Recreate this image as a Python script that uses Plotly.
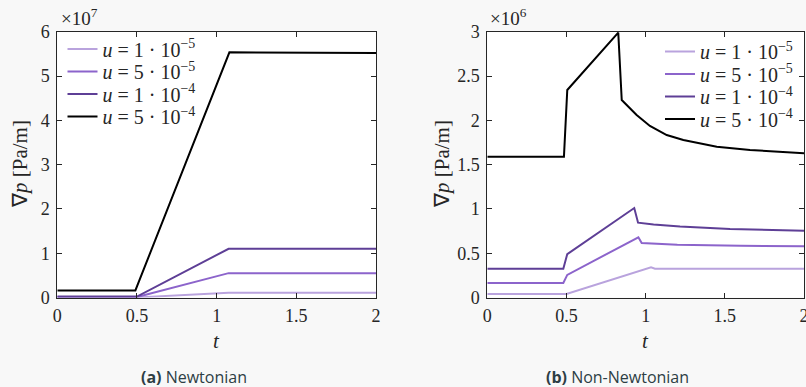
import plotly.graph_objects as go

# Flow rates shown in both panels
labels = ["<i>u</i> = 1 · 10<sup>−5</sup>", "<i>u</i> = 5 · 10<sup>−5</sup>",
          "<i>u</i> = 1 · 10<sup>−4</sup>", "<i>u</i> = 5 · 10<sup>−4</sup>"]
colors = ["#b9a3dd", "#8c64cb", "#5e3f96", "#000000"]

# (a) Newtonian pressure gradient [Pa/m]
newt_t_1e5 = [0, 0.5, 1.075, 2.0]
newt_p_1e5 = [0.2e5, 0.2e5, 1.10e6, 1.10e6]
newt_t_5e5 = [0, 0.5, 1.075, 2.0]
newt_p_5e5 = [1.0e5, 1.0e5, 5.50e6, 5.50e6]
newt_t_1e4 = [0, 0.5, 1.075, 2.0]
newt_p_1e4 = [2.0e5, 2.0e5, 1.10e7, 1.10e7]
newt_t_5e4 = [0, 0.49, 1.08, 2.0]
newt_p_5e4 = [1.6e6, 1.6e6, 5.535e7, 5.52e7]

# (b) Non-Newtonian pressure gradient [Pa/m]
nn_t_1e5 = [0, 0.5, 1.034, 1.059, 2.0]
nn_p_1e5 = [0.04e6, 0.04e6, 0.34e6, 0.325e6, 0.325e6]
nn_t_5e5 = [0, 0.48, 0.505, 0.954, 0.975, 1.2, 1.6, 2.0]
nn_p_5e5 = [0.165e6, 0.165e6, 0.255e6, 0.68e6, 0.615e6, 0.595e6, 0.585e6, 0.578e6]
nn_t_1e4 = [0, 0.48, 0.505, 0.928, 0.952, 1.05, 1.217, 1.533, 2.0]
nn_p_1e4 = [0.325e6, 0.325e6, 0.49e6, 1.01e6, 0.845e6, 0.825e6, 0.80e6, 0.773e6, 0.754e6]
nn_t_5e4 = [0, 0.484, 0.505, 0.827, 0.849, 0.943, 1.027, 1.133, 1.238, 1.449, 1.659, 2.0]
nn_p_5e4 = [1.589e6, 1.589e6, 2.342e6, 2.99e6, 2.229e6, 2.06e6, 1.936e6, 1.834e6,
            1.778e6, 1.702e6, 1.665e6, 1.627e6]

x_ticks = [0, 0.5, 1, 1.5, 2]
x_tick_text = ["0", "0.5", "1", "1.5", "2"]
newt_y_ticks = [0, 1e7, 2e7, 3e7, 4e7, 5e7, 6e7]
newt_y_text = ["0", "1", "2", "3", "4", "5", "6"]
nn_y_ticks = [0, 0.5e6, 1e6, 1.5e6, 2e6, 2.5e6, 3e6]
nn_y_text = ["0", "0.5", "1", "1.5", "2", "2.5", "3"]

newt = [(newt_t_1e5, newt_p_1e5), (newt_t_5e5, newt_p_5e5),
        (newt_t_1e4, newt_p_1e4), (newt_t_5e4, newt_p_5e4)]
nonnewt = [(nn_t_1e5, nn_p_1e5), (nn_t_5e5, nn_p_5e5),
           (nn_t_1e4, nn_p_1e4), (nn_t_5e4, nn_p_5e4)]

W, H = 806, 387
serif = "Liberation Serif"
ink = "#262626"

# Plot-area pixel geometry
top_px, bot_px = 31.7, 297.5
l1, r1 = 57.3, 376.0
l2, r2 = 487.3, 804.0
ydom = [1 - bot_px / H, 1 - top_px / H]

# One single-entry legend per line so the rows sit tightly stacked
legend_rows_a = [49, 71.5, 94, 116.5]
legend_rows_b = [51.5, 74, 96.5, 119]
legend_x_a, legend_x_b = 62.5, 660

legend_style = dict(xanchor="left", yanchor="middle", bgcolor="rgba(0,0,0,0)",
                    font=dict(family=serif, size=20, color=ink), itemwidth=30,
                    borderwidth=0)
legend_layout = {}

fig = go.Figure()
for i, (t, p) in enumerate(newt):
    key = "legend" if i == 0 else f"legend{i + 1}"
    fig.add_trace(go.Scatter(x=t, y=p, mode="lines", name=labels[i],
                             line=dict(color=colors[i], width=2),
                             xaxis="x", yaxis="y", legend=key))
    legend_layout[key] = dict(x=legend_x_a / W, y=1 - legend_rows_a[i] / H, **legend_style)
for i, (t, p) in enumerate(nonnewt):
    key = f"legend{i + 5}"
    fig.add_trace(go.Scatter(x=t, y=p, mode="lines", name=labels[i],
                             line=dict(color=colors[i], width=2),
                             xaxis="x2", yaxis="y2", legend=key))
    legend_layout[key] = dict(x=legend_x_b / W, y=1 - legend_rows_b[i] / H, **legend_style)

common_axis = dict(showgrid=False, zeroline=False, showline=True, linecolor=ink,
                   linewidth=1, mirror="ticks", ticks="inside", ticklen=5,
                   tickcolor=ink, automargin=False, ticklabeloverflow="allow",
                   tickfont=dict(family=serif, size=18, color=ink))
x_axis = dict(range=[0, 2], tickvals=x_ticks, ticktext=x_tick_text,
              ticklabelstandoff=2, **common_axis)
y_axis = dict(ticklabelstandoff=3, **common_axis)

fig.update_layout(
    width=W, height=H, margin=dict(l=0, r=0, t=0, b=0, autoexpand=False),
    paper_bgcolor="#f8f8f8", plot_bgcolor="#ffffff",
    xaxis=dict(domain=[l1 / W, r1 / W], anchor="y", **x_axis),
    yaxis=dict(domain=ydom, range=[0, 6e7], tickvals=newt_y_ticks,
               ticktext=newt_y_text, anchor="x", **y_axis),
    xaxis2=dict(domain=[l2 / W, r2 / W], anchor="y2", **x_axis),
    yaxis2=dict(domain=ydom, range=[0, 3e6], tickvals=nn_y_ticks,
                ticktext=nn_y_text, anchor="x2", **y_axis),
    showlegend=True,
    **legend_layout,
)

annotations = [
    dict(text="×10<sup>7</sup>", x=(l1 + 2) / W, y=1 - (top_px - 1) / H, xanchor="left",
         yanchor="bottom", font=dict(family=serif, size=19, color=ink)),
    dict(text="×10<sup>6</sup>", x=(l2 + 1) / W, y=1 - (top_px - 1) / H, xanchor="left",
         yanchor="bottom", font=dict(family=serif, size=19, color=ink)),
    dict(text="∇<i>p</i> [Pa/m]", x=20 / W, y=1 - 164 / H, textangle=-90,
         xanchor="center", yanchor="middle", font=dict(family=serif, size=21, color=ink)),
    dict(text="∇<i>p</i> [Pa/m]", x=442 / W, y=1 - 164 / H, textangle=-90,
         xanchor="center", yanchor="middle", font=dict(family=serif, size=21, color=ink)),
    dict(text="<i>t</i>", x=(l1 + r1) / 2 / W, y=1 - 341 / H,
         xanchor="center", yanchor="middle", font=dict(family=serif, size=21, color=ink)),
    dict(text="<i>t</i>", x=(l2 + r2) / 2 / W, y=1 - 341 / H,
         xanchor="center", yanchor="middle", font=dict(family=serif, size=21, color=ink)),
    dict(text="<b>(a)</b> Newtonian", x=194 / W, y=1 - 377 / H,
         xanchor="center", yanchor="middle",
         font=dict(family="Open Sans", size=16, color="#2d3e44")),
    dict(text="<b>(b)</b> Non-Newtonian", x=617 / W, y=1 - 377 / H,
         xanchor="center", yanchor="middle",
         font=dict(family="Open Sans", size=16, color="#2d3e44")),
]
for a in annotations:
    a.update(xref="paper", yref="paper", showarrow=False)
fig.update_layout(annotations=annotations)

fig.write_html("out.html")
